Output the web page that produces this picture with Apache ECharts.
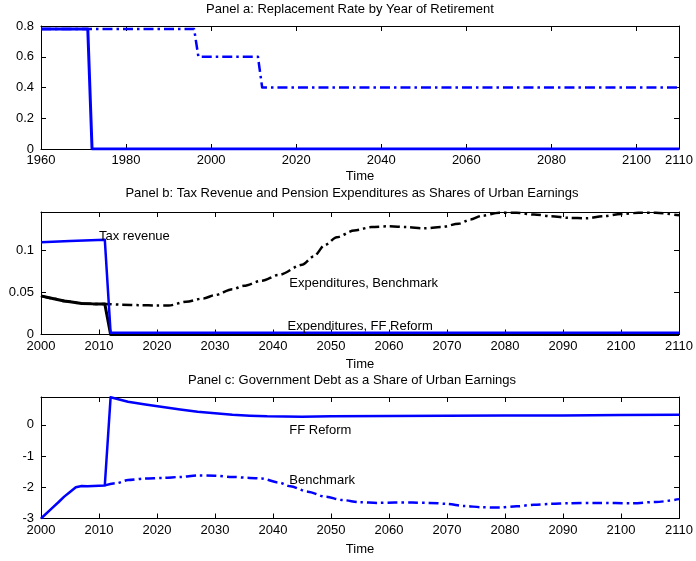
<!DOCTYPE html>
<html>
<head>
<meta charset="utf-8">
<script src="https://cdn.jsdelivr.net/npm/echarts@6/dist/echarts.min.js"></script>
<style>
html,body{margin:0;padding:0;background:#fff;}
#chart{width:696px;height:561px;}
</style>
</head>
<body>
<div id="chart"></div>
<script>
// ---------- Panel a data ----------
var titleA = 'Panel a: Replacement Rate by Year of Retirement';
var aYearsSolid = [1960, 1971, 1972, 2110];
var aSolid      = [0.78, 0.78, 0, 0];
var aYearsDash  = [1960, 1996, 1997, 2011, 2012, 2110];
var aDash       = [0.78, 0.78, 0.6, 0.6, 0.4, 0.4];

// ---------- Panel b data ----------
var titleB = 'Panel b: Tax Revenue and Pension Expenditures as Shares of Urban Earnings';
var bYearsTax = [2000, 2005, 2011, 2012, 2110];
var bTax      = [0.110, 0.1115, 0.113, 0.002, 0.002];
var bYearsFF  = [2000, 2002, 2004, 2005, 2007, 2009, 2011, 2012, 2110];
var bFF       = [0.046, 0.043, 0.040, 0.039, 0.037, 0.0365, 0.0365, 0, 0];
var bYearsBench = [2000, 2002, 2004, 2005, 2007, 2009, 2011, 2014, 2017, 2020, 2022, 2025, 2028, 2030,
  2033, 2035, 2038, 2041, 2045, 2047, 2049, 2051, 2054, 2057, 2060, 2063, 2066, 2069, 2072, 2074,
  2076, 2079, 2082, 2085, 2088, 2091, 2094, 2097, 2100, 2103, 2106, 2110];
var bBench = [0.046, 0.043, 0.040, 0.039, 0.037, 0.0365, 0.0365, 0.0355, 0.035, 0.0345, 0.0345, 0.039, 0.043, 0.047,
  0.054, 0.058, 0.064, 0.071, 0.083, 0.093, 0.107, 0.116, 0.124, 0.128, 0.129, 0.128, 0.1265, 0.128, 0.132, 0.137,
  0.1415, 0.145, 0.145, 0.143, 0.141, 0.139, 0.1385, 0.141, 0.1435, 0.145, 0.145, 0.142];
var bLabels = ['Tax revenue', 'Expenditures, Benchmark', 'Expenditures, FF Reform'];
var bLabelX = [2010, 2042.8, 2042.5];
var bLabelY = [0.117, 0.0605, 0.0102];

// ---------- Panel c data ----------
var titleC = 'Panel c: Government Debt as a Share of Urban Earnings';
var cYearsFF = [2000, 2002, 2003, 2004, 2005, 2006, 2007, 2008, 2009, 2011, 2012, 2015, 2018, 2021, 2024, 2027, 2030,
  2033, 2036, 2039, 2045, 2050, 2060, 2070, 2080, 2090, 2100, 2110];
var cFF = [-3, -2.65, -2.48, -2.3, -2.15, -2.0, -1.96, -1.97, -1.96, -1.94, 0.88, 0.74, 0.65, 0.57, 0.49, 0.42, 0.37,
  0.32, 0.29, 0.27, 0.26, 0.27, 0.28, 0.29, 0.30, 0.30, 0.31, 0.32];
var cYearsBench = [2011, 2013, 2015, 2018, 2021, 2024, 2027, 2030,
  2033, 2036, 2038, 2041, 2043, 2046, 2049, 2052, 2055, 2058, 2061, 2064, 2067, 2070, 2073, 2076, 2079,
  2082, 2085, 2088, 2091, 2096, 2102, 2106, 2110];
var cBench = [-1.94, -1.87, -1.77, -1.72, -1.70, -1.67, -1.62, -1.63,
  -1.67, -1.70, -1.72, -1.85, -1.97, -2.14, -2.30, -2.41, -2.48, -2.50, -2.49, -2.49, -2.50, -2.53, -2.60, -2.64, -2.65,
  -2.61, -2.56, -2.53, -2.51, -2.50, -2.51, -2.47, -2.38];
var cLabels = ['FF Reform', 'Benchmark'];
var cLabelX = [2042.8, 2042.8];
var cLabelY = [-0.19, -1.77];

var axisName = 'Time';

function pairs(xs, ys) { return xs.map(function (x, i) { return [x, ys[i]]; }); }
function labelData(names, xs, ys) {
  return names.map(function (n, i) { return { name: n, value: [xs[i], ys[i]] }; });
}

var FONT = 'Liberation Sans, Arial, sans-serif';
var BLUE = '#0000ff';
var DASHDOT = [10, 4, 2.5, 4];

var grids = [
  { left: 41, top: 26, width: 640, height: 123 },
  { left: 41, top: 212, width: 640, height: 122.5 },
  { left: 41, top: 397, width: 640, height: 121.5 }
];
var xr = [[1960, 2110, 20], [2000, 2110, 10], [2000, 2110, 10]];
var yr = [[0, 0.8, 0.2], [0, 0.146, 0.05], [-3, 0.89, 1]];
var nameGaps = [21, 23, 24];

var xAxes = [], yAxes = [];
for (var g = 0; g < 3; g++) {
  var common = {
    type: 'value', gridIndex: g, splitLine: { show: false },
    axisLine: { show: true, onZero: false, lineStyle: { color: '#000', width: 1 } },
    axisTick: { show: true, inside: true, length: 5, lineStyle: { color: '#000' } }
  };
  xAxes.push(Object.assign({}, common, {
    position: 'bottom', min: xr[g][0], max: xr[g][1], interval: xr[g][2],
    axisLabel: { color: '#000', fontSize: 13, fontFamily: FONT, margin: 5,
                 formatter: function (v) { return String(v); } },
    name: axisName, nameLocation: 'middle', nameGap: nameGaps[g],
    nameTextStyle: { color: '#000', fontSize: 13, fontFamily: FONT }
  }));
  xAxes.push(Object.assign({}, common, {
    position: 'top', min: xr[g][0], max: xr[g][1], interval: xr[g][2],
    axisLabel: { show: false }
  }));
  yAxes.push(Object.assign({}, common, {
    position: 'left', min: yr[g][0], max: yr[g][1], interval: yr[g][2],
    axisLabel: { color: '#000', fontSize: 13, fontFamily: FONT, margin: 7, showMaxLabel: g === 0,
                 formatter: function (v) { return String(+v.toFixed(4)); } }
  }));
  yAxes.push(Object.assign({}, common, {
    position: 'right', min: yr[g][0], max: yr[g][1], interval: yr[g][2],
    axisLabel: { show: false }
  }));
}

function line(xi, data, color, width, type, smooth) {
  return {
    type: 'line', xAxisIndex: xi, yAxisIndex: xi, data: data, showSymbol: false, symbol: 'none',
    smooth: smooth ? 0.3 : false, smoothMonotone: 'x',
    lineStyle: { color: color, width: width, type: type, cap: 'butt', join: 'round' },
    silent: true, z: 3
  };
}
function labels(xi, data) {
  return {
    type: 'scatter', xAxisIndex: xi, yAxisIndex: xi, data: data, symbolSize: 0, silent: true, z: 5,
    itemStyle: { opacity: 1 },
    label: { show: true, position: 'right', distance: 0, formatter: '{b}', color: '#000', opacity: 1,
             textBorderWidth: 0, fontSize: 13, fontFamily: FONT }
  };
}

var titleStyle = { color: '#000', fontSize: 13, fontWeight: 'normal', fontFamily: FONT };
var option = {
  animation: false,
  backgroundColor: '#fff',
  title: [
    { text: titleA, left: 350, top: 3, textAlign: 'center', padding: 0, textStyle: titleStyle },
    { text: titleB, left: 352, top: 187, textAlign: 'center', padding: 0, textStyle: titleStyle },
    { text: titleC, left: 352, top: 374, textAlign: 'center', padding: 0, textStyle: titleStyle }
  ],
  grid: grids,
  xAxis: xAxes,
  yAxis: yAxes,
  series: [
    line(0, pairs(aYearsDash, aDash), BLUE, 2.5, DASHDOT, false),
    line(0, pairs(aYearsSolid, aSolid), BLUE, 3, 'solid', false),

    line(2, pairs(bYearsBench, bBench), '#000', 2.5, DASHDOT, true),
    line(2, pairs(bYearsFF, bFF), '#000', 3, 'solid', false),
    line(2, pairs(bYearsTax, bTax), BLUE, 2.5, 'solid', false),
    labels(2, labelData(bLabels, bLabelX, bLabelY)),

    line(4, pairs(cYearsBench, cBench), BLUE, 2.5, DASHDOT, true),
    line(4, pairs(cYearsFF, cFF), BLUE, 2.5, 'solid', false),
    labels(4, labelData(cLabels, cLabelX, cLabelY))
  ]
};

var chart = echarts.init(document.getElementById('chart'), null, { renderer: 'canvas' });
chart.setOption(option);
</script>
</body>
</html>
